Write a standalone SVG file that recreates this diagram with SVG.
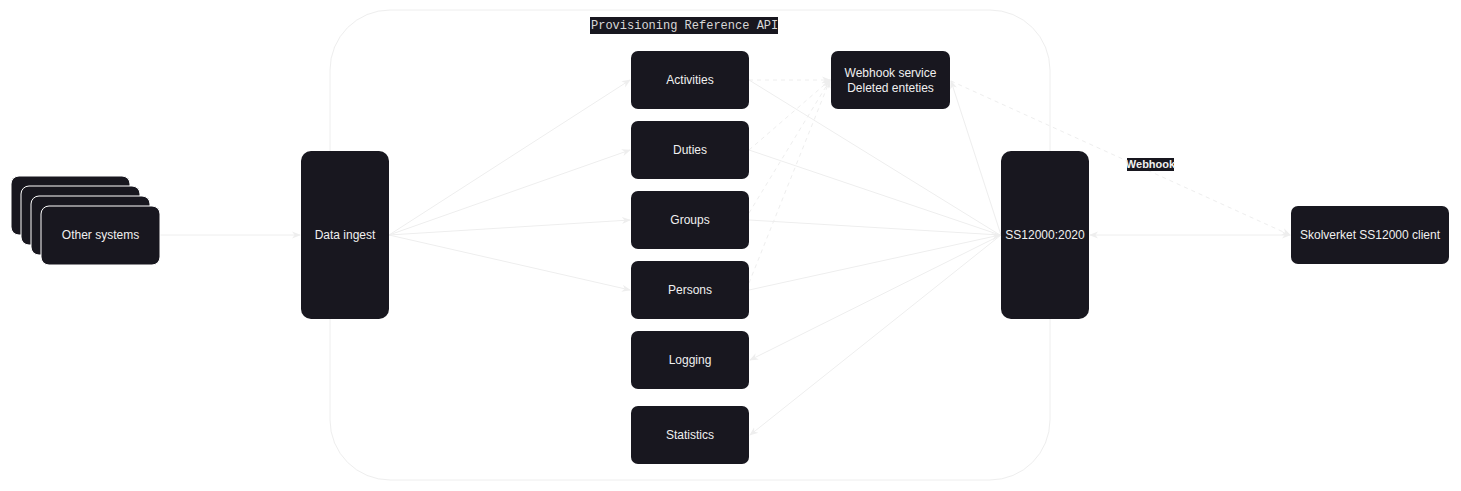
<svg xmlns="http://www.w3.org/2000/svg" width="1461" height="491" viewBox="0 0 1461 491">
<style>
.n{fill:#18171f;stroke:none}
.s{fill:#18171f;stroke:#ffffff;stroke-width:1}
.t{font-family:"Liberation Sans",Arial,sans-serif;font-size:12px;fill:#f0f0f0;text-anchor:middle}
.e{fill:none;stroke:#eeeeee;stroke-width:1}
.d{fill:none;stroke:#eeeeee;stroke-width:1;stroke-dasharray:4 4}
</style>
<defs>
<marker id="a" viewBox="0 0 10 10" refX="9" refY="5" markerWidth="9" markerHeight="9" orient="auto-start-reverse" markerUnits="userSpaceOnUse">
<path d="M0,1 L10,5 L0,9 L3,5 Z" fill="#eeeeee"/>
</marker>
</defs>
<rect x="330" y="10" width="720" height="470" rx="60" fill="none" stroke="#eeeeee" stroke-width="1"/>
<g id="title">
<rect x="590" y="17" width="188" height="17" fill="#18171f"/>
<text x="591" y="29" font-family="'Liberation Mono','Courier New',monospace" font-size="12" fill="#d8d8d8">Provisioning Reference API</text>
</g>
<g id="connectors">
<line class="e" x1="160" y1="235" x2="300" y2="235" marker-end="url(#a)"/>
<line class="e" x1="389" y1="235" x2="630" y2="80" marker-end="url(#a)"/>
<line class="e" x1="389" y1="235" x2="630" y2="150" marker-end="url(#a)"/>
<line class="e" x1="389" y1="235" x2="630" y2="220" marker-end="url(#a)"/>
<line class="e" x1="389" y1="235" x2="630" y2="290" marker-end="url(#a)"/>
<line class="e" x1="749" y1="80" x2="1000" y2="235"/>
<line class="e" x1="749" y1="150" x2="1000" y2="235"/>
<line class="e" x1="749" y1="220" x2="1000" y2="235"/>
<line class="e" x1="749" y1="290" x2="1000" y2="235" marker-end="url(#a)"/>
<line class="e" x1="1001" y1="235" x2="750" y2="360" marker-end="url(#a)"/>
<line class="e" x1="1001" y1="235" x2="750" y2="435" marker-end="url(#a)"/>
<line class="e" x1="1001" y1="235" x2="951" y2="81" marker-end="url(#a)"/>
<line class="d" x1="749" y1="80" x2="830" y2="80" marker-end="url(#a)"/>
<line class="d" x1="749" y1="150" x2="830" y2="80" marker-end="url(#a)"/>
<line class="d" x1="749" y1="213" x2="830" y2="80" marker-end="url(#a)"/>
<line class="d" x1="749" y1="283" x2="830" y2="80" marker-end="url(#a)"/>
<line class="d" x1="951" y1="81" x2="1290" y2="235" marker-end="url(#a)"/>
<line class="e" x1="1090" y1="235" x2="1290" y2="235" marker-start="url(#a)" marker-end="url(#a)"/>
<rect x="1127" y="158" width="47" height="13" fill="#18171f"/>
<text x="1150.5" y="168" font-family="'Liberation Sans',Arial,sans-serif" font-size="11" font-weight="bold" fill="#f0f0f0" text-anchor="middle">Webhook</text>
</g>
<g id="other-systems">
<rect class="s" x="11" y="176" width="119" height="59" rx="8"/>
<rect class="s" x="21" y="186" width="119" height="59" rx="8"/>
<rect class="s" x="31" y="196" width="119" height="59" rx="8"/>
<rect class="s" x="41" y="206" width="119" height="59" rx="8"/>
<text class="t" x="100.5" y="239">Other systems</text>
</g>
<g id="data-ingest">
<rect class="n" x="301" y="151" width="88" height="168" rx="10"/>
<text class="t" x="345" y="239">Data ingest</text>
</g>
<g id="activities">
<rect class="n" x="631" y="51" width="118" height="58" rx="7"/>
<text class="t" x="690" y="84">Activities</text>
</g>
<g id="duties">
<rect class="n" x="631" y="121" width="118" height="58" rx="7"/>
<text class="t" x="690" y="154">Duties</text>
</g>
<g id="groups">
<rect class="n" x="631" y="191" width="118" height="58" rx="7"/>
<text class="t" x="690" y="224">Groups</text>
</g>
<g id="persons">
<rect class="n" x="631" y="261" width="118" height="58" rx="7"/>
<text class="t" x="690" y="294">Persons</text>
</g>
<g id="logging">
<rect class="n" x="631" y="331" width="118" height="58" rx="7"/>
<text class="t" x="690" y="364">Logging</text>
</g>
<g id="statistics">
<rect class="n" x="631" y="406" width="118" height="58" rx="7"/>
<text class="t" x="690" y="439">Statistics</text>
</g>
<g id="webhook-service">
<rect class="n" x="831" y="51" width="119" height="58" rx="7"/>
<text class="t" x="890.5" y="77">Webhook service</text>
<text class="t" x="890.5" y="92">Deleted enteties</text>
</g>
<g id="ss12000">
<rect class="n" x="1001" y="151" width="88" height="168" rx="10"/>
<text class="t" x="1045" y="239">SS12000:2020</text>
</g>
<g id="skolverket">
<rect class="n" x="1291" y="206" width="158" height="58" rx="7"/>
<text class="t" x="1370" y="239">Skolverket SS12000 client</text>
</g>
</svg>
